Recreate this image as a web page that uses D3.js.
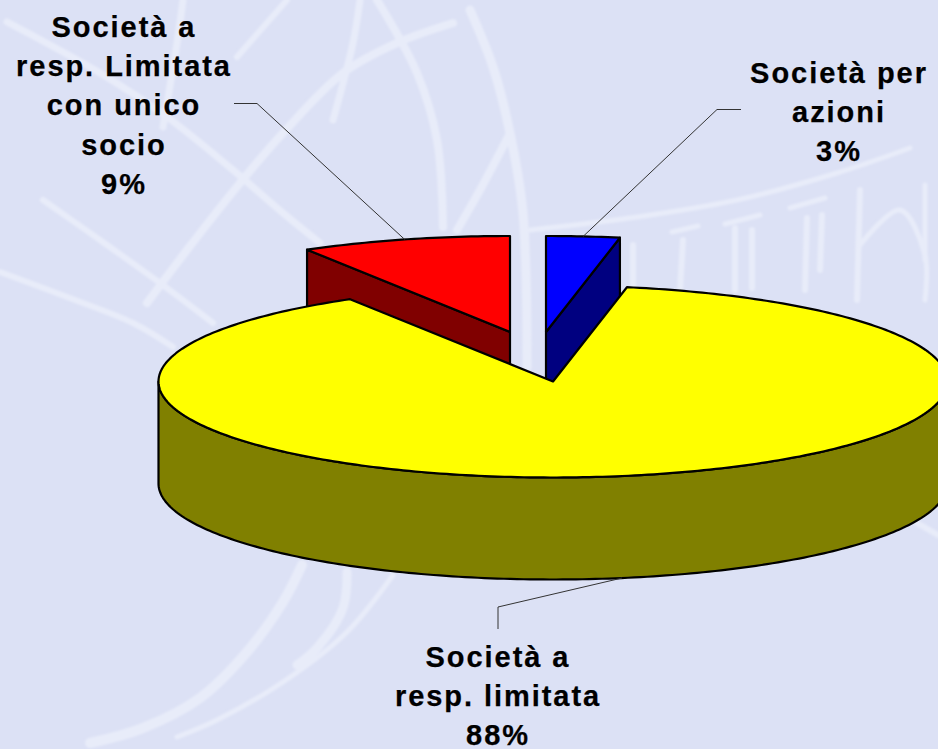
<!DOCTYPE html>
<html><head><meta charset="utf-8">
<script src="https://cdn.jsdelivr.net/npm/d3@7"></script>
<style>html,body{margin:0;padding:0;background:#dce1f5;overflow:hidden}svg{display:block}
text{font-family:"Liberation Sans",Arial,sans-serif;font-weight:700;font-size:29px;letter-spacing:1.95px;fill:#000;text-anchor:middle;stroke:#000;stroke-width:.25px}</style>
</head><body>
<script>
const W = 938, H = 749;
const categories = ["Società per azioni", "Società a resp. limitata", "Società a resp. Limitata con unico socio"];
const values = [3, 88.4, 8.6];
const valueLabels = ["3%", "88%", "9%"];
const labelLines = [["Società per", "azioni", "3%"], ["Società a", "resp. limitata", "88%"], ["Società a", "resp. Limitata", "con unico", "socio", "9%"]];
const topColors = ["#0000ff", "#ffff00", "#ff0000"];
const sideColors = ["#000080", "#808000", "#800000"];

const cx = 553, cy = 381.5, rx = 394.5, ry = 96;
const sx = d3.scaleLinear().domain([-1, 1]).range([-rx, rx]);
const sy = d3.scaleLinear().domain([-1, 1]).range([ry, -ry]);
const explode = [[-7, -49.5], [0, 0], [-43, -49.5]];
const depth = [60, 102, 60];
const labelX = [839, 498, 124];
const labelY = [83, 667, 37];
const leaderText = [[741, 109.5, 717, 109.5], [498, 629, 498, 607], [234, 103.5, 257, 103.5]];

const svg = d3.select("body").append("svg").attr("width", W).attr("height", H);
svg.append("rect").attr("width", W).attr("height", H).attr("fill", "#dce1f5");
svg.append("defs").append("filter").attr("id", "soft").append("feGaussianBlur").attr("stdDeviation", 0.9);

// faint brush-stroke watermark behind the chart
const strokes = [
 [7,[[7,22],[100,73],[167,117],[233,170],[283,213],[320,243]]],
 [8,[[453,23],[397,43],[343,73],[283,133],[240,183],[187,250],[147,303]]],
 [8,[[377,0],[417,73],[437,140],[443,227]]],
 [6,[[43,200],[100,240],[160,283],[213,323]]],
 [6,[[0,272],[67,297],[133,323],[173,347]]],
 [6,[[287,0],[237,57]]],
 [7,[[360,0],[353,43],[333,120]]],
 [7,[[183,0],[177,43],[163,127]]],
 [9,[[470,10],[493,67],[510,133],[523,213],[527,367]]],
 [8,[[510,133],[480,190],[457,230]]],
 [5,[[530,230],[637,217],[737,200],[837,173],[910,148]]],
 [6,[[633,245],[633,290]]],[6,[[683,240],[680,290]]],[6,[[735,228],[735,290]]],[6,[[752,230],[752,288]]],
 [6,[[807,218],[805,290]]],[6,[[822,215],[820,270]]],[6,[[860,190],[857,300]]],
 [5,[[860,245],[900,210],[925,255],[925,300]]],[5,[[925,185],[925,260]]],
 [5,[[672,232],[698,226]]],[5,[[725,224],[760,215]]],[5,[[790,208],[825,198]]],
 [10,[[302,565],[283,602],[247,652],[200,698],[143,728],[90,743]]],
 [9,[[347,572],[343,608],[317,648],[297,665]]],
 [5,[[393,575],[347,632],[283,682],[217,720],[177,737]]],
 [6,[[917,523],[938,535]]]
];
const brush = d3.line().curve(d3.curveCatmullRom);
svg.append("g").attr("filter", "url(#soft)").selectAll("path").data(strokes).join("path")
  .attr("d", d => brush(d[1])).attr("fill", "none").attr("stroke", "#e8ecf9")
  .attr("stroke-width", d => d[0]).attr("stroke-linecap", "round");

const pie = d3.pie().sort(null).startAngle(0).endAngle(2 * Math.PI);
const arcs = pie(values);
const pt = (a, i, dz = 0) => [cx + explode[i][0] + sx(Math.sin(a)), cy + explode[i][1] + sy(Math.cos(a)) + dz];
const arcPts = (a0, a1, i, dz = 0) => {
  const n = Math.max(2, Math.ceil(Math.abs(a1 - a0) * 60));
  return d3.range(n + 1).map(k => pt(a0 + (a1 - a0) * k / n, i, dz));
};
const closed = d3.line();
const poly = p => closed(p) + "Z";
const g = svg.append("g").attr("stroke", "#000").attr("stroke-width", 2.2).attr("stroke-linejoin", "round");

function drawSlice(i) {
  const d = arcs[i], apex = [cx + explode[i][0], cy + explode[i][1]], h = depth[i];
  const down = p => [p[0], p[1] + h];
  if (i === 1) {
    const front = arcPts(Math.PI / 2, 1.5 * Math.PI, i);
    g.append("path").attr("d", poly(front.concat(front.map(down).reverse()))).attr("fill", sideColors[i]);
  } else {
    const rim = i === 0 ? pt(d.endAngle, i) : pt(d.startAngle, i);
    g.append("path").attr("d", poly([apex, rim, down(rim), down(apex)])).attr("fill", sideColors[i]);
  }
  g.append("path").attr("d", poly([apex].concat(arcPts(d.startAngle, d.endAngle, i)))).attr("fill", topColors[i]);
}
[2, 0, 1].forEach(drawSlice);

// leader lines, from label elbow to the middle of each slice's rim
const leaders = svg.append("g").attr("fill", "none").attr("stroke", "#333").attr("stroke-width", 1);
arcs.forEach((d, i) => {
  const mid = (d.startAngle + d.endAngle) / 2;
  const end = pt(mid, i, i === 1 ? depth[i] : 0);
  const t = leaderText[i];
  leaders.append("path").attr("d", d3.line()([[t[0], t[1]], [t[2], t[3]], end]));
});

// labels
const lineH = 39.2;
const lab = svg.append("g");
labelLines.forEach((lines, i) => {
  lab.append("text").selectAll("tspan").data(lines).join("tspan")
    .attr("x", labelX[i]).attr("y", (l, k) => labelY[i] + k * lineH).text(l => l);
});
</script>
</body></html>
